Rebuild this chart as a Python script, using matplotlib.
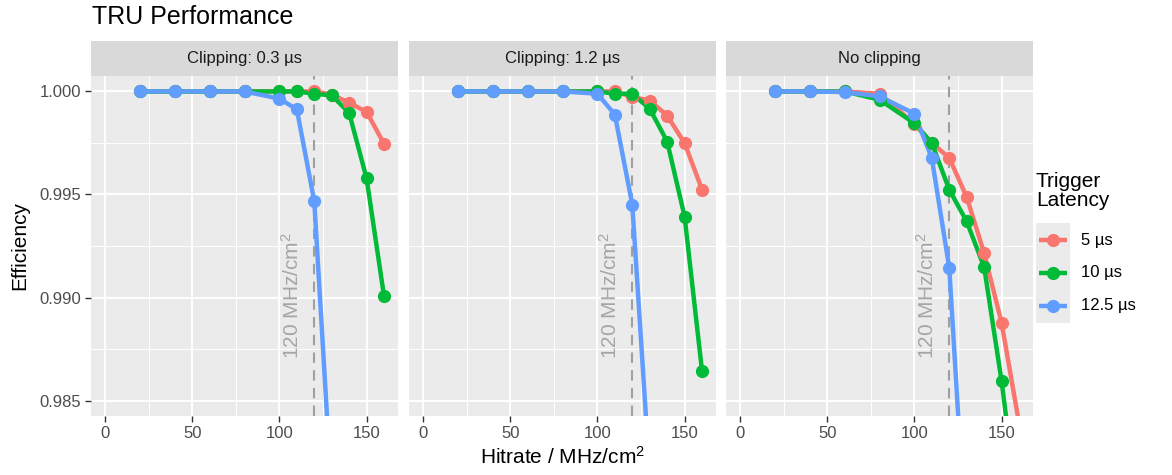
import numpy as np
import matplotlib
matplotlib.use("Agg")
import matplotlib.pyplot as plt
from matplotlib.ticker import MultipleLocator

plt.rcParams['font.family'] = ['Liberation Sans', 'DejaVu Sans']
plt.rcParams['mathtext.fontset'] = 'custom'
plt.rcParams['mathtext.rm'] = 'Liberation Sans'
plt.rcParams['mathtext.it'] = 'Liberation Sans:italic'

# ---------------- data ----------------
hitrate = [20, 40, 60, 80, 100, 110, 120, 130, 140, 150, 160]
nan = np.nan

panels = ["Clipping: 0.3 µs", "Clipping: 1.2 µs", "No clipping"]
latencies = ["5 µs", "10 µs", "12.5 µs"]
colors = ["#F8766D", "#00BA38", "#619CFF"]

clip03_5us = [1.0, 1.0, 1.0, 1.0, 1.0, 1.0, 1.0, 0.99985, 0.99945, 0.99901, 0.99746]
clip03_10us = [1.0, 1.0, 1.0, 1.0, 1.0, 1.0, 0.99989, 0.99981, 0.99896, 0.99578, 0.99006]
clip03_12us = [1.0, 1.0, 1.0, 1.0, 0.99965, 0.99913, 0.99467, 0.9804, nan, nan, nan]

clip12_5us = [1.0, 1.0, 1.0, 1.0, 1.0, 1.0, 0.99973, 0.99956, 0.99883, 0.99749, 0.99524]
clip12_10us = [1.0, 1.0, 1.0, 1.0, 1.0, 0.99989, 0.99989, 0.99916, 0.99757, 0.99393, 0.98642]
clip12_12us = [1.0, 1.0, 1.0, 1.0, 0.99989, 0.99888, 0.99451, 0.9814, nan, nan, nan]

noclip_5us = [1.0, 1.0, 1.0, 0.99989, 0.99843, 0.9975, 0.99678, 0.99487, 0.99215, 0.98877, 0.9839]
noclip_10us = [1.0, 1.0, 1.0, 0.9996, 0.99846, 0.99749, 0.99523, 0.99369, 0.99147, 0.98594, 0.9792]
noclip_12us = [1.0, 1.0, 0.99997, 0.99976, 0.99892, 0.99676, 0.99144, 0.9774, nan, nan, nan]

panel_data = [
    [clip03_5us, clip03_10us, clip03_12us],
    [clip12_5us, clip12_10us, clip12_12us],
    [noclip_5us, noclip_10us, noclip_12us],
]

ref_rate = 120
ref_label = r"120 MHz/cm$^{2}$"

# ---------------- layout ----------------
W, H = 1172, 475
fig = plt.figure(figsize=(W / 100, H / 100), dpi=100)

def fx(px):
    return px / W

def fy(py):
    return 1 - py / H

panel_left = [91, 409, 726]
panel_w = 307
panel_top, panel_bot = 76, 416
strip_top = 41

panel_bg = "#EBEBEB"
strip_bg = "#D9D9D9"
tick_col = "#333333"
lab_col = "#4D4D4D"
LW = 3.2
MS = 9.5

for i, (title, series) in enumerate(zip(panels, panel_data)):
    left = panel_left[i]
    ax = fig.add_axes([fx(left), fy(panel_bot), panel_w / W, (panel_bot - panel_top) / H])
    ax.set_facecolor(panel_bg)
    for s in ax.spines.values():
        s.set_visible(False)
    ax.set_xlim(-8, 168)
    ax.set_ylim(0.98425, 1.00075)
    ax.xaxis.set_major_locator(MultipleLocator(50))
    ax.xaxis.set_minor_locator(MultipleLocator(25))
    ax.yaxis.set_major_locator(MultipleLocator(0.005))
    ax.yaxis.set_minor_locator(MultipleLocator(0.0025))
    ax.grid(which='major', color='white', linewidth=1.4)
    ax.grid(which='minor', color='white', linewidth=0.7)
    ax.set_axisbelow(True)
    ax.tick_params(which='major', length=4, width=1.0, color=tick_col,
                   labelcolor=lab_col, labelsize=12, pad=3)
    ax.tick_params(which='minor', length=0)
    ax.set_xticks([0, 50, 100, 150])
    ax.set_xticklabels(["0", "50", "100", "150"])
    if i == 0:
        ax.set_yticks([0.985, 0.990, 0.995, 1.000])
        ax.set_yticklabels(["0.985", "0.990", "0.995", "1.000"])
    else:
        ax.tick_params(axis='y', which='both', length=0, labelleft=False)

    ax.axvline(ref_rate, color="#A0A0A0", linewidth=1.5, dashes=(5, 3.5), zorder=2)
    ax.text(107, 0.9901, ref_label, rotation=90, ha='center', va='center',
            color="#A6A6A6", fontsize=15, zorder=2)

    for vals, c in zip(series, colors):
        ax.plot(hitrate, vals, color=c, linewidth=LW, zorder=3,
                solid_capstyle='butt')
    for vals, c in zip(series, colors):
        ax.plot(hitrate, vals, linestyle='none', marker='o', markersize=MS,
                color=c, markeredgewidth=0, zorder=4)

    sax = fig.add_axes([fx(left), fy(panel_top), panel_w / W, (panel_top - strip_top) / H])
    sax.set_facecolor(strip_bg)
    sax.set_xticks([])
    sax.set_yticks([])
    for s in sax.spines.values():
        s.set_visible(False)
    sax.text(0.5, 0.5, title, ha='center', va='center', fontsize=12,
             color="#1A1A1A", transform=sax.transAxes)

# titles
fig.text(fx(92), fy(17), "TRU Performance", ha='left', va='center',
         fontsize=18, color='black')
fig.text(fx(562), fy(457), r"Hitrate / MHz/cm$^{2}$", ha='center', va='center',
         fontsize=15, color='black')
fig.text(fx(20), fy(246), "Efficiency", ha='center', va='center',
         rotation=90, fontsize=15, color='black')

# legend
fig.text(fx(1036), fy(191), "Trigger\nLatency", ha='left', va='center',
         fontsize=15, color='black', linespacing=1.0)
key_top, key_bot = 223, 323
kax = fig.add_axes([fx(1036), fy(key_bot), 34 / W, (key_bot - key_top) / H])
kax.set_facecolor(panel_bg)
kax.set_xlim(0, 1)
kax.set_ylim(key_bot, key_top)
kax.set_xticks([])
kax.set_yticks([])
for s in kax.spines.values():
    s.set_visible(False)
key_y = [240, 272.5, 305.5]
for ky, c, lab in zip(key_y, colors, latencies):
    kax.plot([0.1, 0.9], [ky, ky], color=c, linewidth=LW, solid_capstyle='butt')
    kax.plot([0.5], [ky], marker='o', markersize=MS, color=c, markeredgewidth=0)
    fig.text(fx(1081), fy(ky), lab, ha='left', va='center', fontsize=12, color='black')

fig.savefig("out.png", dpi=100)
